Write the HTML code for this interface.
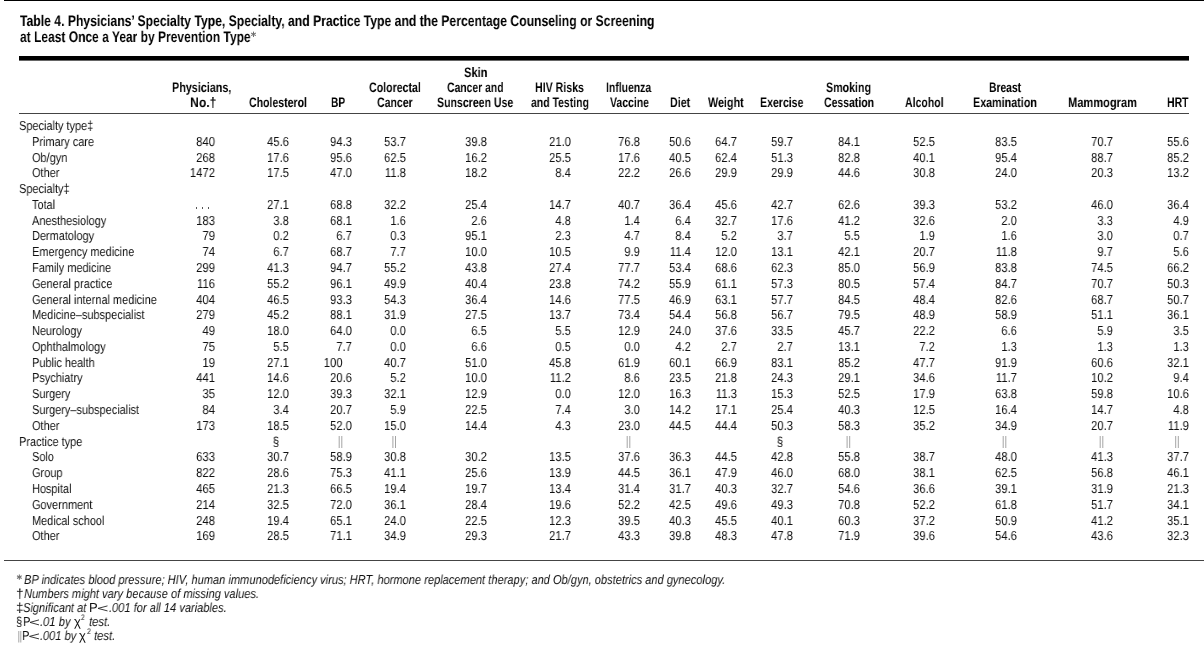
<!DOCTYPE html>
<html><head><meta charset="utf-8"><title>Table 4</title><style>
html,body{margin:0;padding:0;background:#fff;}
body{width:1204px;height:650px;position:relative;overflow:hidden;font-family:"Liberation Sans",sans-serif;}
.t{position:absolute;white-space:nowrap;line-height:20px;transform-origin:0 0;will-change:transform;text-rendering:geometricPrecision;}
.r{position:absolute;}
.title{font-size:15.4px;font-weight:bold;font-style:normal;color:#000;}
.head{font-size:13.7px;font-weight:bold;font-style:normal;color:#000;}
.body{font-size:13.0px;font-weight:normal;font-style:normal;color:#111;}
.foot{font-size:13.0px;font-weight:normal;font-style:italic;color:#111;}
.footu{font-size:13.0px;font-weight:normal;font-style:normal;color:#111;}
</style></head>
<body>
<div class="r" style="left:4px;top:0px;width:1200px;height:1px;background:#000"></div>
<div class="r" style="left:19px;top:56px;width:1169.5px;height:4px;background:#000"></div>
<div class="r" style="left:19px;top:60px;width:1169.5px;height:1px;background:#666"></div>
<div class="r" style="left:19px;top:113px;width:1169.5px;height:1px;background:#444"></div>
<div class="r" style="left:4px;top:560px;width:1200px;height:1px;background:#444"></div>
<div class="t title" style="left:19.50px;top:11.86px;transform-origin:0 15.34px;transform:scaleX(0.7911)">Table 4. Physicians’ Specialty Type, Specialty, and Practice Type and the Percentage Counseling or Screening</div>
<div class="t title" style="left:19.50px;top:27.86px;transform-origin:0 15.34px;transform:scaleX(0.7807)">at Least Once a Year by Prevention Type</div>
<svg class="r" style="left:0;top:0" width="1204" height="650" stroke="#707070" stroke-width="1.05"><line x1="253.50" y1="31.60" x2="253.50" y2="37.00"/><line x1="251.16" y1="32.95" x2="255.84" y2="35.65"/><line x1="255.84" y1="32.95" x2="251.16" y2="35.65"/></svg>
<div class="t head" style="left:172.41px;top:77.65px;transform-origin:0 14.75px;transform:scaleX(0.7878)">Physicians,</div>
<div class="t head" style="left:189.51px;top:92.55px;transform-origin:0 14.75px;transform:scaleX(0.8893)">No.†</div>
<div class="t head" style="left:249.20px;top:92.55px;transform-origin:0 14.75px;transform:scaleX(0.7689)">Cholesterol</div>
<div class="t head" style="left:330.56px;top:92.55px;transform-origin:0 14.75px;transform:scaleX(0.7389)">BP</div>
<div class="t head" style="left:369.30px;top:77.65px;transform-origin:0 14.75px;transform:scaleX(0.7742)">Colorectal</div>
<div class="t head" style="left:377.00px;top:92.55px;transform-origin:0 14.75px;transform:scaleX(0.7696)">Cancer</div>
<div class="t head" style="left:464.09px;top:62.65px;transform-origin:0 14.75px;transform:scaleX(0.8111)">Skin</div>
<div class="t head" style="left:447.40px;top:77.65px;transform-origin:0 14.75px;transform:scaleX(0.7581)">Cancer and</div>
<div class="t head" style="left:437.43px;top:92.55px;transform-origin:0 14.75px;transform:scaleX(0.7711)">Sunscreen Use</div>
<div class="t head" style="left:535.12px;top:77.65px;transform-origin:0 14.75px;transform:scaleX(0.7758)">HIV Risks</div>
<div class="t head" style="left:530.90px;top:92.55px;transform-origin:0 14.75px;transform:scaleX(0.7640)">and Testing</div>
<div class="t head" style="left:605.64px;top:77.65px;transform-origin:0 14.75px;transform:scaleX(0.7610)">Influenza</div>
<div class="t head" style="left:610.00px;top:92.55px;transform-origin:0 14.75px;transform:scaleX(0.7660)">Vaccine</div>
<div class="t head" style="left:669.72px;top:92.55px;transform-origin:0 14.75px;transform:scaleX(0.7800)">Diet</div>
<div class="t head" style="left:708.20px;top:92.55px;transform-origin:0 14.75px;transform:scaleX(0.7867)">Weight</div>
<div class="t head" style="left:760.23px;top:92.55px;transform-origin:0 14.75px;transform:scaleX(0.7709)">Exercise</div>
<div class="t head" style="left:825.82px;top:77.65px;transform-origin:0 14.75px;transform:scaleX(0.7786)">Smoking</div>
<div class="t head" style="left:824.00px;top:92.55px;transform-origin:0 14.75px;transform:scaleX(0.7646)">Cessation</div>
<div class="t head" style="left:904.80px;top:92.55px;transform-origin:0 14.75px;transform:scaleX(0.7673)">Alcohol</div>
<div class="t head" style="left:988.75px;top:77.65px;transform-origin:0 14.75px;transform:scaleX(0.7524)">Breast</div>
<div class="t head" style="left:973.01px;top:92.55px;transform-origin:0 14.75px;transform:scaleX(0.7850)">Examination</div>
<div class="t head" style="left:1067.69px;top:92.55px;transform-origin:0 14.75px;transform:scaleX(0.8096)">Mammogram</div>
<div class="t head" style="left:1166.64px;top:92.55px;transform-origin:0 14.75px;transform:scaleX(0.7630)">HRT</div>
<div class="t body" style="left:19.30px;top:116.00px;transform-origin:0 14.50px;transform:scaleX(0.8420)">Specialty type‡</div>
<div class="t body" style="left:31.80px;top:131.78px;transform-origin:0 14.50px;transform:scaleX(0.8420)">Primary care</div>
<div class="t body" style="left:215.40px;top:131.78px;transform-origin:0 14.50px;transform:scaleX(0.8680) translateX(-100%)">840</div>
<div class="t body" style="left:289.40px;top:131.78px;transform-origin:0 14.50px;transform:scaleX(0.8680) translateX(-100%)">45.6</div>
<div class="t body" style="left:352.40px;top:131.78px;transform-origin:0 14.50px;transform:scaleX(0.8680) translateX(-100%)">94.3</div>
<div class="t body" style="left:406.00px;top:131.78px;transform-origin:0 14.50px;transform:scaleX(0.8680) translateX(-100%)">53.7</div>
<div class="t body" style="left:486.90px;top:131.78px;transform-origin:0 14.50px;transform:scaleX(0.8680) translateX(-100%)">39.8</div>
<div class="t body" style="left:570.90px;top:131.78px;transform-origin:0 14.50px;transform:scaleX(0.8680) translateX(-100%)">21.0</div>
<div class="t body" style="left:640.40px;top:131.78px;transform-origin:0 14.50px;transform:scaleX(0.8680) translateX(-100%)">76.8</div>
<div class="t body" style="left:691.00px;top:131.78px;transform-origin:0 14.50px;transform:scaleX(0.8680) translateX(-100%)">50.6</div>
<div class="t body" style="left:737.20px;top:131.78px;transform-origin:0 14.50px;transform:scaleX(0.8680) translateX(-100%)">64.7</div>
<div class="t body" style="left:792.80px;top:131.78px;transform-origin:0 14.50px;transform:scaleX(0.8680) translateX(-100%)">59.7</div>
<div class="t body" style="left:859.60px;top:131.78px;transform-origin:0 14.50px;transform:scaleX(0.8680) translateX(-100%)">84.1</div>
<div class="t body" style="left:935.30px;top:131.78px;transform-origin:0 14.50px;transform:scaleX(0.8680) translateX(-100%)">52.5</div>
<div class="t body" style="left:1016.70px;top:131.78px;transform-origin:0 14.50px;transform:scaleX(0.8680) translateX(-100%)">83.5</div>
<div class="t body" style="left:1112.60px;top:131.78px;transform-origin:0 14.50px;transform:scaleX(0.8680) translateX(-100%)">70.7</div>
<div class="t body" style="left:1188.60px;top:131.78px;transform-origin:0 14.50px;transform:scaleX(0.8680) translateX(-100%)">55.6</div>
<div class="t body" style="left:31.80px;top:147.56px;transform-origin:0 14.50px;transform:scaleX(0.8420)">Ob/gyn</div>
<div class="t body" style="left:215.40px;top:147.56px;transform-origin:0 14.50px;transform:scaleX(0.8680) translateX(-100%)">268</div>
<div class="t body" style="left:289.40px;top:147.56px;transform-origin:0 14.50px;transform:scaleX(0.8680) translateX(-100%)">17.6</div>
<div class="t body" style="left:352.40px;top:147.56px;transform-origin:0 14.50px;transform:scaleX(0.8680) translateX(-100%)">95.6</div>
<div class="t body" style="left:406.00px;top:147.56px;transform-origin:0 14.50px;transform:scaleX(0.8680) translateX(-100%)">62.5</div>
<div class="t body" style="left:486.90px;top:147.56px;transform-origin:0 14.50px;transform:scaleX(0.8680) translateX(-100%)">16.2</div>
<div class="t body" style="left:570.90px;top:147.56px;transform-origin:0 14.50px;transform:scaleX(0.8680) translateX(-100%)">25.5</div>
<div class="t body" style="left:640.40px;top:147.56px;transform-origin:0 14.50px;transform:scaleX(0.8680) translateX(-100%)">17.6</div>
<div class="t body" style="left:691.00px;top:147.56px;transform-origin:0 14.50px;transform:scaleX(0.8680) translateX(-100%)">40.5</div>
<div class="t body" style="left:737.20px;top:147.56px;transform-origin:0 14.50px;transform:scaleX(0.8680) translateX(-100%)">62.4</div>
<div class="t body" style="left:792.80px;top:147.56px;transform-origin:0 14.50px;transform:scaleX(0.8680) translateX(-100%)">51.3</div>
<div class="t body" style="left:859.60px;top:147.56px;transform-origin:0 14.50px;transform:scaleX(0.8680) translateX(-100%)">82.8</div>
<div class="t body" style="left:935.30px;top:147.56px;transform-origin:0 14.50px;transform:scaleX(0.8680) translateX(-100%)">40.1</div>
<div class="t body" style="left:1016.70px;top:147.56px;transform-origin:0 14.50px;transform:scaleX(0.8680) translateX(-100%)">95.4</div>
<div class="t body" style="left:1112.60px;top:147.56px;transform-origin:0 14.50px;transform:scaleX(0.8680) translateX(-100%)">88.7</div>
<div class="t body" style="left:1188.60px;top:147.56px;transform-origin:0 14.50px;transform:scaleX(0.8680) translateX(-100%)">85.2</div>
<div class="t body" style="left:31.80px;top:163.34px;transform-origin:0 14.50px;transform:scaleX(0.8420)">Other</div>
<div class="t body" style="left:215.40px;top:163.34px;transform-origin:0 14.50px;transform:scaleX(0.8680) translateX(-100%)">1472</div>
<div class="t body" style="left:289.40px;top:163.34px;transform-origin:0 14.50px;transform:scaleX(0.8680) translateX(-100%)">17.5</div>
<div class="t body" style="left:352.40px;top:163.34px;transform-origin:0 14.50px;transform:scaleX(0.8680) translateX(-100%)">47.0</div>
<div class="t body" style="left:406.00px;top:163.34px;transform-origin:0 14.50px;transform:scaleX(0.8680) translateX(-100%)">11.8</div>
<div class="t body" style="left:486.90px;top:163.34px;transform-origin:0 14.50px;transform:scaleX(0.8680) translateX(-100%)">18.2</div>
<div class="t body" style="left:570.90px;top:163.34px;transform-origin:0 14.50px;transform:scaleX(0.8680) translateX(-100%)">8.4</div>
<div class="t body" style="left:640.40px;top:163.34px;transform-origin:0 14.50px;transform:scaleX(0.8680) translateX(-100%)">22.2</div>
<div class="t body" style="left:691.00px;top:163.34px;transform-origin:0 14.50px;transform:scaleX(0.8680) translateX(-100%)">26.6</div>
<div class="t body" style="left:737.20px;top:163.34px;transform-origin:0 14.50px;transform:scaleX(0.8680) translateX(-100%)">29.9</div>
<div class="t body" style="left:792.80px;top:163.34px;transform-origin:0 14.50px;transform:scaleX(0.8680) translateX(-100%)">29.9</div>
<div class="t body" style="left:859.60px;top:163.34px;transform-origin:0 14.50px;transform:scaleX(0.8680) translateX(-100%)">44.6</div>
<div class="t body" style="left:935.30px;top:163.34px;transform-origin:0 14.50px;transform:scaleX(0.8680) translateX(-100%)">30.8</div>
<div class="t body" style="left:1016.70px;top:163.34px;transform-origin:0 14.50px;transform:scaleX(0.8680) translateX(-100%)">24.0</div>
<div class="t body" style="left:1112.60px;top:163.34px;transform-origin:0 14.50px;transform:scaleX(0.8680) translateX(-100%)">20.3</div>
<div class="t body" style="left:1188.60px;top:163.34px;transform-origin:0 14.50px;transform:scaleX(0.8680) translateX(-100%)">13.2</div>
<div class="t body" style="left:19.30px;top:179.12px;transform-origin:0 14.50px;transform:scaleX(0.8420)">Specialty‡</div>
<div class="t body" style="left:31.80px;top:194.90px;transform-origin:0 14.50px;transform:scaleX(0.8420)">Total</div>
<div class="r" style="left:195.60px;top:207.10px;width:1.2px;height:1.6px;background:#555"></div>
<div class="r" style="left:201.70px;top:207.10px;width:1.2px;height:1.6px;background:#555"></div>
<div class="r" style="left:207.80px;top:207.10px;width:1.2px;height:1.6px;background:#555"></div>
<div class="t body" style="left:289.40px;top:194.90px;transform-origin:0 14.50px;transform:scaleX(0.8680) translateX(-100%)">27.1</div>
<div class="t body" style="left:352.40px;top:194.90px;transform-origin:0 14.50px;transform:scaleX(0.8680) translateX(-100%)">68.8</div>
<div class="t body" style="left:406.00px;top:194.90px;transform-origin:0 14.50px;transform:scaleX(0.8680) translateX(-100%)">32.2</div>
<div class="t body" style="left:486.90px;top:194.90px;transform-origin:0 14.50px;transform:scaleX(0.8680) translateX(-100%)">25.4</div>
<div class="t body" style="left:570.90px;top:194.90px;transform-origin:0 14.50px;transform:scaleX(0.8680) translateX(-100%)">14.7</div>
<div class="t body" style="left:640.40px;top:194.90px;transform-origin:0 14.50px;transform:scaleX(0.8680) translateX(-100%)">40.7</div>
<div class="t body" style="left:691.00px;top:194.90px;transform-origin:0 14.50px;transform:scaleX(0.8680) translateX(-100%)">36.4</div>
<div class="t body" style="left:737.20px;top:194.90px;transform-origin:0 14.50px;transform:scaleX(0.8680) translateX(-100%)">45.6</div>
<div class="t body" style="left:792.80px;top:194.90px;transform-origin:0 14.50px;transform:scaleX(0.8680) translateX(-100%)">42.7</div>
<div class="t body" style="left:859.60px;top:194.90px;transform-origin:0 14.50px;transform:scaleX(0.8680) translateX(-100%)">62.6</div>
<div class="t body" style="left:935.30px;top:194.90px;transform-origin:0 14.50px;transform:scaleX(0.8680) translateX(-100%)">39.3</div>
<div class="t body" style="left:1016.70px;top:194.90px;transform-origin:0 14.50px;transform:scaleX(0.8680) translateX(-100%)">53.2</div>
<div class="t body" style="left:1112.60px;top:194.90px;transform-origin:0 14.50px;transform:scaleX(0.8680) translateX(-100%)">46.0</div>
<div class="t body" style="left:1188.60px;top:194.90px;transform-origin:0 14.50px;transform:scaleX(0.8680) translateX(-100%)">36.4</div>
<div class="t body" style="left:31.80px;top:210.68px;transform-origin:0 14.50px;transform:scaleX(0.8420)">Anesthesiology</div>
<div class="t body" style="left:215.40px;top:210.68px;transform-origin:0 14.50px;transform:scaleX(0.8680) translateX(-100%)">183</div>
<div class="t body" style="left:289.40px;top:210.68px;transform-origin:0 14.50px;transform:scaleX(0.8680) translateX(-100%)">3.8</div>
<div class="t body" style="left:352.40px;top:210.68px;transform-origin:0 14.50px;transform:scaleX(0.8680) translateX(-100%)">68.1</div>
<div class="t body" style="left:406.00px;top:210.68px;transform-origin:0 14.50px;transform:scaleX(0.8680) translateX(-100%)">1.6</div>
<div class="t body" style="left:486.90px;top:210.68px;transform-origin:0 14.50px;transform:scaleX(0.8680) translateX(-100%)">2.6</div>
<div class="t body" style="left:570.90px;top:210.68px;transform-origin:0 14.50px;transform:scaleX(0.8680) translateX(-100%)">4.8</div>
<div class="t body" style="left:640.40px;top:210.68px;transform-origin:0 14.50px;transform:scaleX(0.8680) translateX(-100%)">1.4</div>
<div class="t body" style="left:691.00px;top:210.68px;transform-origin:0 14.50px;transform:scaleX(0.8680) translateX(-100%)">6.4</div>
<div class="t body" style="left:737.20px;top:210.68px;transform-origin:0 14.50px;transform:scaleX(0.8680) translateX(-100%)">32.7</div>
<div class="t body" style="left:792.80px;top:210.68px;transform-origin:0 14.50px;transform:scaleX(0.8680) translateX(-100%)">17.6</div>
<div class="t body" style="left:859.60px;top:210.68px;transform-origin:0 14.50px;transform:scaleX(0.8680) translateX(-100%)">41.2</div>
<div class="t body" style="left:935.30px;top:210.68px;transform-origin:0 14.50px;transform:scaleX(0.8680) translateX(-100%)">32.6</div>
<div class="t body" style="left:1016.70px;top:210.68px;transform-origin:0 14.50px;transform:scaleX(0.8680) translateX(-100%)">2.0</div>
<div class="t body" style="left:1112.60px;top:210.68px;transform-origin:0 14.50px;transform:scaleX(0.8680) translateX(-100%)">3.3</div>
<div class="t body" style="left:1188.60px;top:210.68px;transform-origin:0 14.50px;transform:scaleX(0.8680) translateX(-100%)">4.9</div>
<div class="t body" style="left:31.80px;top:226.46px;transform-origin:0 14.50px;transform:scaleX(0.8420)">Dermatology</div>
<div class="t body" style="left:215.40px;top:226.46px;transform-origin:0 14.50px;transform:scaleX(0.8680) translateX(-100%)">79</div>
<div class="t body" style="left:289.40px;top:226.46px;transform-origin:0 14.50px;transform:scaleX(0.8680) translateX(-100%)">0.2</div>
<div class="t body" style="left:352.40px;top:226.46px;transform-origin:0 14.50px;transform:scaleX(0.8680) translateX(-100%)">6.7</div>
<div class="t body" style="left:406.00px;top:226.46px;transform-origin:0 14.50px;transform:scaleX(0.8680) translateX(-100%)">0.3</div>
<div class="t body" style="left:486.90px;top:226.46px;transform-origin:0 14.50px;transform:scaleX(0.8680) translateX(-100%)">95.1</div>
<div class="t body" style="left:570.90px;top:226.46px;transform-origin:0 14.50px;transform:scaleX(0.8680) translateX(-100%)">2.3</div>
<div class="t body" style="left:640.40px;top:226.46px;transform-origin:0 14.50px;transform:scaleX(0.8680) translateX(-100%)">4.7</div>
<div class="t body" style="left:691.00px;top:226.46px;transform-origin:0 14.50px;transform:scaleX(0.8680) translateX(-100%)">8.4</div>
<div class="t body" style="left:737.20px;top:226.46px;transform-origin:0 14.50px;transform:scaleX(0.8680) translateX(-100%)">5.2</div>
<div class="t body" style="left:792.80px;top:226.46px;transform-origin:0 14.50px;transform:scaleX(0.8680) translateX(-100%)">3.7</div>
<div class="t body" style="left:859.60px;top:226.46px;transform-origin:0 14.50px;transform:scaleX(0.8680) translateX(-100%)">5.5</div>
<div class="t body" style="left:935.30px;top:226.46px;transform-origin:0 14.50px;transform:scaleX(0.8680) translateX(-100%)">1.9</div>
<div class="t body" style="left:1016.70px;top:226.46px;transform-origin:0 14.50px;transform:scaleX(0.8680) translateX(-100%)">1.6</div>
<div class="t body" style="left:1112.60px;top:226.46px;transform-origin:0 14.50px;transform:scaleX(0.8680) translateX(-100%)">3.0</div>
<div class="t body" style="left:1188.60px;top:226.46px;transform-origin:0 14.50px;transform:scaleX(0.8680) translateX(-100%)">0.7</div>
<div class="t body" style="left:31.80px;top:242.24px;transform-origin:0 14.50px;transform:scaleX(0.8420)">Emergency medicine</div>
<div class="t body" style="left:215.40px;top:242.24px;transform-origin:0 14.50px;transform:scaleX(0.8680) translateX(-100%)">74</div>
<div class="t body" style="left:289.40px;top:242.24px;transform-origin:0 14.50px;transform:scaleX(0.8680) translateX(-100%)">6.7</div>
<div class="t body" style="left:352.40px;top:242.24px;transform-origin:0 14.50px;transform:scaleX(0.8680) translateX(-100%)">68.7</div>
<div class="t body" style="left:406.00px;top:242.24px;transform-origin:0 14.50px;transform:scaleX(0.8680) translateX(-100%)">7.7</div>
<div class="t body" style="left:486.90px;top:242.24px;transform-origin:0 14.50px;transform:scaleX(0.8680) translateX(-100%)">10.0</div>
<div class="t body" style="left:570.90px;top:242.24px;transform-origin:0 14.50px;transform:scaleX(0.8680) translateX(-100%)">10.5</div>
<div class="t body" style="left:640.40px;top:242.24px;transform-origin:0 14.50px;transform:scaleX(0.8680) translateX(-100%)">9.9</div>
<div class="t body" style="left:691.00px;top:242.24px;transform-origin:0 14.50px;transform:scaleX(0.8680) translateX(-100%)">11.4</div>
<div class="t body" style="left:737.20px;top:242.24px;transform-origin:0 14.50px;transform:scaleX(0.8680) translateX(-100%)">12.0</div>
<div class="t body" style="left:792.80px;top:242.24px;transform-origin:0 14.50px;transform:scaleX(0.8680) translateX(-100%)">13.1</div>
<div class="t body" style="left:859.60px;top:242.24px;transform-origin:0 14.50px;transform:scaleX(0.8680) translateX(-100%)">42.1</div>
<div class="t body" style="left:935.30px;top:242.24px;transform-origin:0 14.50px;transform:scaleX(0.8680) translateX(-100%)">20.7</div>
<div class="t body" style="left:1016.70px;top:242.24px;transform-origin:0 14.50px;transform:scaleX(0.8680) translateX(-100%)">11.8</div>
<div class="t body" style="left:1112.60px;top:242.24px;transform-origin:0 14.50px;transform:scaleX(0.8680) translateX(-100%)">9.7</div>
<div class="t body" style="left:1188.60px;top:242.24px;transform-origin:0 14.50px;transform:scaleX(0.8680) translateX(-100%)">5.6</div>
<div class="t body" style="left:31.80px;top:258.02px;transform-origin:0 14.50px;transform:scaleX(0.8420)">Family medicine</div>
<div class="t body" style="left:215.40px;top:258.02px;transform-origin:0 14.50px;transform:scaleX(0.8680) translateX(-100%)">299</div>
<div class="t body" style="left:289.40px;top:258.02px;transform-origin:0 14.50px;transform:scaleX(0.8680) translateX(-100%)">41.3</div>
<div class="t body" style="left:352.40px;top:258.02px;transform-origin:0 14.50px;transform:scaleX(0.8680) translateX(-100%)">94.7</div>
<div class="t body" style="left:406.00px;top:258.02px;transform-origin:0 14.50px;transform:scaleX(0.8680) translateX(-100%)">55.2</div>
<div class="t body" style="left:486.90px;top:258.02px;transform-origin:0 14.50px;transform:scaleX(0.8680) translateX(-100%)">43.8</div>
<div class="t body" style="left:570.90px;top:258.02px;transform-origin:0 14.50px;transform:scaleX(0.8680) translateX(-100%)">27.4</div>
<div class="t body" style="left:640.40px;top:258.02px;transform-origin:0 14.50px;transform:scaleX(0.8680) translateX(-100%)">77.7</div>
<div class="t body" style="left:691.00px;top:258.02px;transform-origin:0 14.50px;transform:scaleX(0.8680) translateX(-100%)">53.4</div>
<div class="t body" style="left:737.20px;top:258.02px;transform-origin:0 14.50px;transform:scaleX(0.8680) translateX(-100%)">68.6</div>
<div class="t body" style="left:792.80px;top:258.02px;transform-origin:0 14.50px;transform:scaleX(0.8680) translateX(-100%)">62.3</div>
<div class="t body" style="left:859.60px;top:258.02px;transform-origin:0 14.50px;transform:scaleX(0.8680) translateX(-100%)">85.0</div>
<div class="t body" style="left:935.30px;top:258.02px;transform-origin:0 14.50px;transform:scaleX(0.8680) translateX(-100%)">56.9</div>
<div class="t body" style="left:1016.70px;top:258.02px;transform-origin:0 14.50px;transform:scaleX(0.8680) translateX(-100%)">83.8</div>
<div class="t body" style="left:1112.60px;top:258.02px;transform-origin:0 14.50px;transform:scaleX(0.8680) translateX(-100%)">74.5</div>
<div class="t body" style="left:1188.60px;top:258.02px;transform-origin:0 14.50px;transform:scaleX(0.8680) translateX(-100%)">66.2</div>
<div class="t body" style="left:31.80px;top:273.80px;transform-origin:0 14.50px;transform:scaleX(0.8420)">General practice</div>
<div class="t body" style="left:215.40px;top:273.80px;transform-origin:0 14.50px;transform:scaleX(0.8680) translateX(-100%)">116</div>
<div class="t body" style="left:289.40px;top:273.80px;transform-origin:0 14.50px;transform:scaleX(0.8680) translateX(-100%)">55.2</div>
<div class="t body" style="left:352.40px;top:273.80px;transform-origin:0 14.50px;transform:scaleX(0.8680) translateX(-100%)">96.1</div>
<div class="t body" style="left:406.00px;top:273.80px;transform-origin:0 14.50px;transform:scaleX(0.8680) translateX(-100%)">49.9</div>
<div class="t body" style="left:486.90px;top:273.80px;transform-origin:0 14.50px;transform:scaleX(0.8680) translateX(-100%)">40.4</div>
<div class="t body" style="left:570.90px;top:273.80px;transform-origin:0 14.50px;transform:scaleX(0.8680) translateX(-100%)">23.8</div>
<div class="t body" style="left:640.40px;top:273.80px;transform-origin:0 14.50px;transform:scaleX(0.8680) translateX(-100%)">74.2</div>
<div class="t body" style="left:691.00px;top:273.80px;transform-origin:0 14.50px;transform:scaleX(0.8680) translateX(-100%)">55.9</div>
<div class="t body" style="left:737.20px;top:273.80px;transform-origin:0 14.50px;transform:scaleX(0.8680) translateX(-100%)">61.1</div>
<div class="t body" style="left:792.80px;top:273.80px;transform-origin:0 14.50px;transform:scaleX(0.8680) translateX(-100%)">57.3</div>
<div class="t body" style="left:859.60px;top:273.80px;transform-origin:0 14.50px;transform:scaleX(0.8680) translateX(-100%)">80.5</div>
<div class="t body" style="left:935.30px;top:273.80px;transform-origin:0 14.50px;transform:scaleX(0.8680) translateX(-100%)">57.4</div>
<div class="t body" style="left:1016.70px;top:273.80px;transform-origin:0 14.50px;transform:scaleX(0.8680) translateX(-100%)">84.7</div>
<div class="t body" style="left:1112.60px;top:273.80px;transform-origin:0 14.50px;transform:scaleX(0.8680) translateX(-100%)">70.7</div>
<div class="t body" style="left:1188.60px;top:273.80px;transform-origin:0 14.50px;transform:scaleX(0.8680) translateX(-100%)">50.3</div>
<div class="t body" style="left:31.80px;top:289.58px;transform-origin:0 14.50px;transform:scaleX(0.8420)">General internal medicine</div>
<div class="t body" style="left:215.40px;top:289.58px;transform-origin:0 14.50px;transform:scaleX(0.8680) translateX(-100%)">404</div>
<div class="t body" style="left:289.40px;top:289.58px;transform-origin:0 14.50px;transform:scaleX(0.8680) translateX(-100%)">46.5</div>
<div class="t body" style="left:352.40px;top:289.58px;transform-origin:0 14.50px;transform:scaleX(0.8680) translateX(-100%)">93.3</div>
<div class="t body" style="left:406.00px;top:289.58px;transform-origin:0 14.50px;transform:scaleX(0.8680) translateX(-100%)">54.3</div>
<div class="t body" style="left:486.90px;top:289.58px;transform-origin:0 14.50px;transform:scaleX(0.8680) translateX(-100%)">36.4</div>
<div class="t body" style="left:570.90px;top:289.58px;transform-origin:0 14.50px;transform:scaleX(0.8680) translateX(-100%)">14.6</div>
<div class="t body" style="left:640.40px;top:289.58px;transform-origin:0 14.50px;transform:scaleX(0.8680) translateX(-100%)">77.5</div>
<div class="t body" style="left:691.00px;top:289.58px;transform-origin:0 14.50px;transform:scaleX(0.8680) translateX(-100%)">46.9</div>
<div class="t body" style="left:737.20px;top:289.58px;transform-origin:0 14.50px;transform:scaleX(0.8680) translateX(-100%)">63.1</div>
<div class="t body" style="left:792.80px;top:289.58px;transform-origin:0 14.50px;transform:scaleX(0.8680) translateX(-100%)">57.7</div>
<div class="t body" style="left:859.60px;top:289.58px;transform-origin:0 14.50px;transform:scaleX(0.8680) translateX(-100%)">84.5</div>
<div class="t body" style="left:935.30px;top:289.58px;transform-origin:0 14.50px;transform:scaleX(0.8680) translateX(-100%)">48.4</div>
<div class="t body" style="left:1016.70px;top:289.58px;transform-origin:0 14.50px;transform:scaleX(0.8680) translateX(-100%)">82.6</div>
<div class="t body" style="left:1112.60px;top:289.58px;transform-origin:0 14.50px;transform:scaleX(0.8680) translateX(-100%)">68.7</div>
<div class="t body" style="left:1188.60px;top:289.58px;transform-origin:0 14.50px;transform:scaleX(0.8680) translateX(-100%)">50.7</div>
<div class="t body" style="left:31.80px;top:305.36px;transform-origin:0 14.50px;transform:scaleX(0.8420)">Medicine–subspecialist</div>
<div class="t body" style="left:215.40px;top:305.36px;transform-origin:0 14.50px;transform:scaleX(0.8680) translateX(-100%)">279</div>
<div class="t body" style="left:289.40px;top:305.36px;transform-origin:0 14.50px;transform:scaleX(0.8680) translateX(-100%)">45.2</div>
<div class="t body" style="left:352.40px;top:305.36px;transform-origin:0 14.50px;transform:scaleX(0.8680) translateX(-100%)">88.1</div>
<div class="t body" style="left:406.00px;top:305.36px;transform-origin:0 14.50px;transform:scaleX(0.8680) translateX(-100%)">31.9</div>
<div class="t body" style="left:486.90px;top:305.36px;transform-origin:0 14.50px;transform:scaleX(0.8680) translateX(-100%)">27.5</div>
<div class="t body" style="left:570.90px;top:305.36px;transform-origin:0 14.50px;transform:scaleX(0.8680) translateX(-100%)">13.7</div>
<div class="t body" style="left:640.40px;top:305.36px;transform-origin:0 14.50px;transform:scaleX(0.8680) translateX(-100%)">73.4</div>
<div class="t body" style="left:691.00px;top:305.36px;transform-origin:0 14.50px;transform:scaleX(0.8680) translateX(-100%)">54.4</div>
<div class="t body" style="left:737.20px;top:305.36px;transform-origin:0 14.50px;transform:scaleX(0.8680) translateX(-100%)">56.8</div>
<div class="t body" style="left:792.80px;top:305.36px;transform-origin:0 14.50px;transform:scaleX(0.8680) translateX(-100%)">56.7</div>
<div class="t body" style="left:859.60px;top:305.36px;transform-origin:0 14.50px;transform:scaleX(0.8680) translateX(-100%)">79.5</div>
<div class="t body" style="left:935.30px;top:305.36px;transform-origin:0 14.50px;transform:scaleX(0.8680) translateX(-100%)">48.9</div>
<div class="t body" style="left:1016.70px;top:305.36px;transform-origin:0 14.50px;transform:scaleX(0.8680) translateX(-100%)">58.9</div>
<div class="t body" style="left:1112.60px;top:305.36px;transform-origin:0 14.50px;transform:scaleX(0.8680) translateX(-100%)">51.1</div>
<div class="t body" style="left:1188.60px;top:305.36px;transform-origin:0 14.50px;transform:scaleX(0.8680) translateX(-100%)">36.1</div>
<div class="t body" style="left:31.80px;top:321.14px;transform-origin:0 14.50px;transform:scaleX(0.8420)">Neurology</div>
<div class="t body" style="left:215.40px;top:321.14px;transform-origin:0 14.50px;transform:scaleX(0.8680) translateX(-100%)">49</div>
<div class="t body" style="left:289.40px;top:321.14px;transform-origin:0 14.50px;transform:scaleX(0.8680) translateX(-100%)">18.0</div>
<div class="t body" style="left:352.40px;top:321.14px;transform-origin:0 14.50px;transform:scaleX(0.8680) translateX(-100%)">64.0</div>
<div class="t body" style="left:406.00px;top:321.14px;transform-origin:0 14.50px;transform:scaleX(0.8680) translateX(-100%)">0.0</div>
<div class="t body" style="left:486.90px;top:321.14px;transform-origin:0 14.50px;transform:scaleX(0.8680) translateX(-100%)">6.5</div>
<div class="t body" style="left:570.90px;top:321.14px;transform-origin:0 14.50px;transform:scaleX(0.8680) translateX(-100%)">5.5</div>
<div class="t body" style="left:640.40px;top:321.14px;transform-origin:0 14.50px;transform:scaleX(0.8680) translateX(-100%)">12.9</div>
<div class="t body" style="left:691.00px;top:321.14px;transform-origin:0 14.50px;transform:scaleX(0.8680) translateX(-100%)">24.0</div>
<div class="t body" style="left:737.20px;top:321.14px;transform-origin:0 14.50px;transform:scaleX(0.8680) translateX(-100%)">37.6</div>
<div class="t body" style="left:792.80px;top:321.14px;transform-origin:0 14.50px;transform:scaleX(0.8680) translateX(-100%)">33.5</div>
<div class="t body" style="left:859.60px;top:321.14px;transform-origin:0 14.50px;transform:scaleX(0.8680) translateX(-100%)">45.7</div>
<div class="t body" style="left:935.30px;top:321.14px;transform-origin:0 14.50px;transform:scaleX(0.8680) translateX(-100%)">22.2</div>
<div class="t body" style="left:1016.70px;top:321.14px;transform-origin:0 14.50px;transform:scaleX(0.8680) translateX(-100%)">6.6</div>
<div class="t body" style="left:1112.60px;top:321.14px;transform-origin:0 14.50px;transform:scaleX(0.8680) translateX(-100%)">5.9</div>
<div class="t body" style="left:1188.60px;top:321.14px;transform-origin:0 14.50px;transform:scaleX(0.8680) translateX(-100%)">3.5</div>
<div class="t body" style="left:31.80px;top:336.92px;transform-origin:0 14.50px;transform:scaleX(0.8420)">Ophthalmology</div>
<div class="t body" style="left:215.40px;top:336.92px;transform-origin:0 14.50px;transform:scaleX(0.8680) translateX(-100%)">75</div>
<div class="t body" style="left:289.40px;top:336.92px;transform-origin:0 14.50px;transform:scaleX(0.8680) translateX(-100%)">5.5</div>
<div class="t body" style="left:352.40px;top:336.92px;transform-origin:0 14.50px;transform:scaleX(0.8680) translateX(-100%)">7.7</div>
<div class="t body" style="left:406.00px;top:336.92px;transform-origin:0 14.50px;transform:scaleX(0.8680) translateX(-100%)">0.0</div>
<div class="t body" style="left:486.90px;top:336.92px;transform-origin:0 14.50px;transform:scaleX(0.8680) translateX(-100%)">6.6</div>
<div class="t body" style="left:570.90px;top:336.92px;transform-origin:0 14.50px;transform:scaleX(0.8680) translateX(-100%)">0.5</div>
<div class="t body" style="left:640.40px;top:336.92px;transform-origin:0 14.50px;transform:scaleX(0.8680) translateX(-100%)">0.0</div>
<div class="t body" style="left:691.00px;top:336.92px;transform-origin:0 14.50px;transform:scaleX(0.8680) translateX(-100%)">4.2</div>
<div class="t body" style="left:737.20px;top:336.92px;transform-origin:0 14.50px;transform:scaleX(0.8680) translateX(-100%)">2.7</div>
<div class="t body" style="left:792.80px;top:336.92px;transform-origin:0 14.50px;transform:scaleX(0.8680) translateX(-100%)">2.7</div>
<div class="t body" style="left:859.60px;top:336.92px;transform-origin:0 14.50px;transform:scaleX(0.8680) translateX(-100%)">13.1</div>
<div class="t body" style="left:935.30px;top:336.92px;transform-origin:0 14.50px;transform:scaleX(0.8680) translateX(-100%)">7.2</div>
<div class="t body" style="left:1016.70px;top:336.92px;transform-origin:0 14.50px;transform:scaleX(0.8680) translateX(-100%)">1.3</div>
<div class="t body" style="left:1112.60px;top:336.92px;transform-origin:0 14.50px;transform:scaleX(0.8680) translateX(-100%)">1.3</div>
<div class="t body" style="left:1188.60px;top:336.92px;transform-origin:0 14.50px;transform:scaleX(0.8680) translateX(-100%)">1.3</div>
<div class="t body" style="left:31.80px;top:352.70px;transform-origin:0 14.50px;transform:scaleX(0.8420)">Public health</div>
<div class="t body" style="left:215.40px;top:352.70px;transform-origin:0 14.50px;transform:scaleX(0.8680) translateX(-100%)">19</div>
<div class="t body" style="left:289.40px;top:352.70px;transform-origin:0 14.50px;transform:scaleX(0.8680) translateX(-100%)">27.1</div>
<div class="t body" style="left:352.40px;top:352.70px;transform-origin:0 14.50px;transform:scaleX(0.8680) translateX(-100%)">100<span style="visibility:hidden">.0</span></div>
<div class="t body" style="left:406.00px;top:352.70px;transform-origin:0 14.50px;transform:scaleX(0.8680) translateX(-100%)">40.7</div>
<div class="t body" style="left:486.90px;top:352.70px;transform-origin:0 14.50px;transform:scaleX(0.8680) translateX(-100%)">51.0</div>
<div class="t body" style="left:570.90px;top:352.70px;transform-origin:0 14.50px;transform:scaleX(0.8680) translateX(-100%)">45.8</div>
<div class="t body" style="left:640.40px;top:352.70px;transform-origin:0 14.50px;transform:scaleX(0.8680) translateX(-100%)">61.9</div>
<div class="t body" style="left:691.00px;top:352.70px;transform-origin:0 14.50px;transform:scaleX(0.8680) translateX(-100%)">60.1</div>
<div class="t body" style="left:737.20px;top:352.70px;transform-origin:0 14.50px;transform:scaleX(0.8680) translateX(-100%)">66.9</div>
<div class="t body" style="left:792.80px;top:352.70px;transform-origin:0 14.50px;transform:scaleX(0.8680) translateX(-100%)">83.1</div>
<div class="t body" style="left:859.60px;top:352.70px;transform-origin:0 14.50px;transform:scaleX(0.8680) translateX(-100%)">85.2</div>
<div class="t body" style="left:935.30px;top:352.70px;transform-origin:0 14.50px;transform:scaleX(0.8680) translateX(-100%)">47.7</div>
<div class="t body" style="left:1016.70px;top:352.70px;transform-origin:0 14.50px;transform:scaleX(0.8680) translateX(-100%)">91.9</div>
<div class="t body" style="left:1112.60px;top:352.70px;transform-origin:0 14.50px;transform:scaleX(0.8680) translateX(-100%)">60.6</div>
<div class="t body" style="left:1188.60px;top:352.70px;transform-origin:0 14.50px;transform:scaleX(0.8680) translateX(-100%)">32.1</div>
<div class="t body" style="left:31.80px;top:368.48px;transform-origin:0 14.50px;transform:scaleX(0.8420)">Psychiatry</div>
<div class="t body" style="left:215.40px;top:368.48px;transform-origin:0 14.50px;transform:scaleX(0.8680) translateX(-100%)">441</div>
<div class="t body" style="left:289.40px;top:368.48px;transform-origin:0 14.50px;transform:scaleX(0.8680) translateX(-100%)">14.6</div>
<div class="t body" style="left:352.40px;top:368.48px;transform-origin:0 14.50px;transform:scaleX(0.8680) translateX(-100%)">20.6</div>
<div class="t body" style="left:406.00px;top:368.48px;transform-origin:0 14.50px;transform:scaleX(0.8680) translateX(-100%)">5.2</div>
<div class="t body" style="left:486.90px;top:368.48px;transform-origin:0 14.50px;transform:scaleX(0.8680) translateX(-100%)">10.0</div>
<div class="t body" style="left:570.90px;top:368.48px;transform-origin:0 14.50px;transform:scaleX(0.8680) translateX(-100%)">11.2</div>
<div class="t body" style="left:640.40px;top:368.48px;transform-origin:0 14.50px;transform:scaleX(0.8680) translateX(-100%)">8.6</div>
<div class="t body" style="left:691.00px;top:368.48px;transform-origin:0 14.50px;transform:scaleX(0.8680) translateX(-100%)">23.5</div>
<div class="t body" style="left:737.20px;top:368.48px;transform-origin:0 14.50px;transform:scaleX(0.8680) translateX(-100%)">21.8</div>
<div class="t body" style="left:792.80px;top:368.48px;transform-origin:0 14.50px;transform:scaleX(0.8680) translateX(-100%)">24.3</div>
<div class="t body" style="left:859.60px;top:368.48px;transform-origin:0 14.50px;transform:scaleX(0.8680) translateX(-100%)">29.1</div>
<div class="t body" style="left:935.30px;top:368.48px;transform-origin:0 14.50px;transform:scaleX(0.8680) translateX(-100%)">34.6</div>
<div class="t body" style="left:1016.70px;top:368.48px;transform-origin:0 14.50px;transform:scaleX(0.8680) translateX(-100%)">11.7</div>
<div class="t body" style="left:1112.60px;top:368.48px;transform-origin:0 14.50px;transform:scaleX(0.8680) translateX(-100%)">10.2</div>
<div class="t body" style="left:1188.60px;top:368.48px;transform-origin:0 14.50px;transform:scaleX(0.8680) translateX(-100%)">9.4</div>
<div class="t body" style="left:31.80px;top:384.26px;transform-origin:0 14.50px;transform:scaleX(0.8420)">Surgery</div>
<div class="t body" style="left:215.40px;top:384.26px;transform-origin:0 14.50px;transform:scaleX(0.8680) translateX(-100%)">35</div>
<div class="t body" style="left:289.40px;top:384.26px;transform-origin:0 14.50px;transform:scaleX(0.8680) translateX(-100%)">12.0</div>
<div class="t body" style="left:352.40px;top:384.26px;transform-origin:0 14.50px;transform:scaleX(0.8680) translateX(-100%)">39.3</div>
<div class="t body" style="left:406.00px;top:384.26px;transform-origin:0 14.50px;transform:scaleX(0.8680) translateX(-100%)">32.1</div>
<div class="t body" style="left:486.90px;top:384.26px;transform-origin:0 14.50px;transform:scaleX(0.8680) translateX(-100%)">12.9</div>
<div class="t body" style="left:570.90px;top:384.26px;transform-origin:0 14.50px;transform:scaleX(0.8680) translateX(-100%)">0.0</div>
<div class="t body" style="left:640.40px;top:384.26px;transform-origin:0 14.50px;transform:scaleX(0.8680) translateX(-100%)">12.0</div>
<div class="t body" style="left:691.00px;top:384.26px;transform-origin:0 14.50px;transform:scaleX(0.8680) translateX(-100%)">16.3</div>
<div class="t body" style="left:737.20px;top:384.26px;transform-origin:0 14.50px;transform:scaleX(0.8680) translateX(-100%)">11.3</div>
<div class="t body" style="left:792.80px;top:384.26px;transform-origin:0 14.50px;transform:scaleX(0.8680) translateX(-100%)">15.3</div>
<div class="t body" style="left:859.60px;top:384.26px;transform-origin:0 14.50px;transform:scaleX(0.8680) translateX(-100%)">52.5</div>
<div class="t body" style="left:935.30px;top:384.26px;transform-origin:0 14.50px;transform:scaleX(0.8680) translateX(-100%)">17.9</div>
<div class="t body" style="left:1016.70px;top:384.26px;transform-origin:0 14.50px;transform:scaleX(0.8680) translateX(-100%)">63.8</div>
<div class="t body" style="left:1112.60px;top:384.26px;transform-origin:0 14.50px;transform:scaleX(0.8680) translateX(-100%)">59.8</div>
<div class="t body" style="left:1188.60px;top:384.26px;transform-origin:0 14.50px;transform:scaleX(0.8680) translateX(-100%)">10.6</div>
<div class="t body" style="left:31.80px;top:400.04px;transform-origin:0 14.50px;transform:scaleX(0.8420)">Surgery–subspecialist</div>
<div class="t body" style="left:215.40px;top:400.04px;transform-origin:0 14.50px;transform:scaleX(0.8680) translateX(-100%)">84</div>
<div class="t body" style="left:289.40px;top:400.04px;transform-origin:0 14.50px;transform:scaleX(0.8680) translateX(-100%)">3.4</div>
<div class="t body" style="left:352.40px;top:400.04px;transform-origin:0 14.50px;transform:scaleX(0.8680) translateX(-100%)">20.7</div>
<div class="t body" style="left:406.00px;top:400.04px;transform-origin:0 14.50px;transform:scaleX(0.8680) translateX(-100%)">5.9</div>
<div class="t body" style="left:486.90px;top:400.04px;transform-origin:0 14.50px;transform:scaleX(0.8680) translateX(-100%)">22.5</div>
<div class="t body" style="left:570.90px;top:400.04px;transform-origin:0 14.50px;transform:scaleX(0.8680) translateX(-100%)">7.4</div>
<div class="t body" style="left:640.40px;top:400.04px;transform-origin:0 14.50px;transform:scaleX(0.8680) translateX(-100%)">3.0</div>
<div class="t body" style="left:691.00px;top:400.04px;transform-origin:0 14.50px;transform:scaleX(0.8680) translateX(-100%)">14.2</div>
<div class="t body" style="left:737.20px;top:400.04px;transform-origin:0 14.50px;transform:scaleX(0.8680) translateX(-100%)">17.1</div>
<div class="t body" style="left:792.80px;top:400.04px;transform-origin:0 14.50px;transform:scaleX(0.8680) translateX(-100%)">25.4</div>
<div class="t body" style="left:859.60px;top:400.04px;transform-origin:0 14.50px;transform:scaleX(0.8680) translateX(-100%)">40.3</div>
<div class="t body" style="left:935.30px;top:400.04px;transform-origin:0 14.50px;transform:scaleX(0.8680) translateX(-100%)">12.5</div>
<div class="t body" style="left:1016.70px;top:400.04px;transform-origin:0 14.50px;transform:scaleX(0.8680) translateX(-100%)">16.4</div>
<div class="t body" style="left:1112.60px;top:400.04px;transform-origin:0 14.50px;transform:scaleX(0.8680) translateX(-100%)">14.7</div>
<div class="t body" style="left:1188.60px;top:400.04px;transform-origin:0 14.50px;transform:scaleX(0.8680) translateX(-100%)">4.8</div>
<div class="t body" style="left:31.80px;top:415.82px;transform-origin:0 14.50px;transform:scaleX(0.8420)">Other</div>
<div class="t body" style="left:215.40px;top:415.82px;transform-origin:0 14.50px;transform:scaleX(0.8680) translateX(-100%)">173</div>
<div class="t body" style="left:289.40px;top:415.82px;transform-origin:0 14.50px;transform:scaleX(0.8680) translateX(-100%)">18.5</div>
<div class="t body" style="left:352.40px;top:415.82px;transform-origin:0 14.50px;transform:scaleX(0.8680) translateX(-100%)">52.0</div>
<div class="t body" style="left:406.00px;top:415.82px;transform-origin:0 14.50px;transform:scaleX(0.8680) translateX(-100%)">15.0</div>
<div class="t body" style="left:486.90px;top:415.82px;transform-origin:0 14.50px;transform:scaleX(0.8680) translateX(-100%)">14.4</div>
<div class="t body" style="left:570.90px;top:415.82px;transform-origin:0 14.50px;transform:scaleX(0.8680) translateX(-100%)">4.3</div>
<div class="t body" style="left:640.40px;top:415.82px;transform-origin:0 14.50px;transform:scaleX(0.8680) translateX(-100%)">23.0</div>
<div class="t body" style="left:691.00px;top:415.82px;transform-origin:0 14.50px;transform:scaleX(0.8680) translateX(-100%)">44.5</div>
<div class="t body" style="left:737.20px;top:415.82px;transform-origin:0 14.50px;transform:scaleX(0.8680) translateX(-100%)">44.4</div>
<div class="t body" style="left:792.80px;top:415.82px;transform-origin:0 14.50px;transform:scaleX(0.8680) translateX(-100%)">50.3</div>
<div class="t body" style="left:859.60px;top:415.82px;transform-origin:0 14.50px;transform:scaleX(0.8680) translateX(-100%)">58.3</div>
<div class="t body" style="left:935.30px;top:415.82px;transform-origin:0 14.50px;transform:scaleX(0.8680) translateX(-100%)">35.2</div>
<div class="t body" style="left:1016.70px;top:415.82px;transform-origin:0 14.50px;transform:scaleX(0.8680) translateX(-100%)">34.9</div>
<div class="t body" style="left:1112.60px;top:415.82px;transform-origin:0 14.50px;transform:scaleX(0.8680) translateX(-100%)">20.7</div>
<div class="t body" style="left:1188.60px;top:415.82px;transform-origin:0 14.50px;transform:scaleX(0.8680) translateX(-100%)">11.9</div>
<div class="t body" style="left:19.30px;top:431.60px;transform-origin:0 14.50px;transform:scaleX(0.8420)">Practice type</div>
<div class="t body" style="left:31.80px;top:447.38px;transform-origin:0 14.50px;transform:scaleX(0.8420)">Solo</div>
<div class="t body" style="left:215.40px;top:447.38px;transform-origin:0 14.50px;transform:scaleX(0.8680) translateX(-100%)">633</div>
<div class="t body" style="left:289.40px;top:447.38px;transform-origin:0 14.50px;transform:scaleX(0.8680) translateX(-100%)">30.7</div>
<div class="t body" style="left:352.40px;top:447.38px;transform-origin:0 14.50px;transform:scaleX(0.8680) translateX(-100%)">58.9</div>
<div class="t body" style="left:406.00px;top:447.38px;transform-origin:0 14.50px;transform:scaleX(0.8680) translateX(-100%)">30.8</div>
<div class="t body" style="left:486.90px;top:447.38px;transform-origin:0 14.50px;transform:scaleX(0.8680) translateX(-100%)">30.2</div>
<div class="t body" style="left:570.90px;top:447.38px;transform-origin:0 14.50px;transform:scaleX(0.8680) translateX(-100%)">13.5</div>
<div class="t body" style="left:640.40px;top:447.38px;transform-origin:0 14.50px;transform:scaleX(0.8680) translateX(-100%)">37.6</div>
<div class="t body" style="left:691.00px;top:447.38px;transform-origin:0 14.50px;transform:scaleX(0.8680) translateX(-100%)">36.3</div>
<div class="t body" style="left:737.20px;top:447.38px;transform-origin:0 14.50px;transform:scaleX(0.8680) translateX(-100%)">44.5</div>
<div class="t body" style="left:792.80px;top:447.38px;transform-origin:0 14.50px;transform:scaleX(0.8680) translateX(-100%)">42.8</div>
<div class="t body" style="left:859.60px;top:447.38px;transform-origin:0 14.50px;transform:scaleX(0.8680) translateX(-100%)">55.8</div>
<div class="t body" style="left:935.30px;top:447.38px;transform-origin:0 14.50px;transform:scaleX(0.8680) translateX(-100%)">38.7</div>
<div class="t body" style="left:1016.70px;top:447.38px;transform-origin:0 14.50px;transform:scaleX(0.8680) translateX(-100%)">48.0</div>
<div class="t body" style="left:1112.60px;top:447.38px;transform-origin:0 14.50px;transform:scaleX(0.8680) translateX(-100%)">41.3</div>
<div class="t body" style="left:1188.60px;top:447.38px;transform-origin:0 14.50px;transform:scaleX(0.8680) translateX(-100%)">37.7</div>
<div class="t body" style="left:31.80px;top:463.16px;transform-origin:0 14.50px;transform:scaleX(0.8420)">Group</div>
<div class="t body" style="left:215.40px;top:463.16px;transform-origin:0 14.50px;transform:scaleX(0.8680) translateX(-100%)">822</div>
<div class="t body" style="left:289.40px;top:463.16px;transform-origin:0 14.50px;transform:scaleX(0.8680) translateX(-100%)">28.6</div>
<div class="t body" style="left:352.40px;top:463.16px;transform-origin:0 14.50px;transform:scaleX(0.8680) translateX(-100%)">75.3</div>
<div class="t body" style="left:406.00px;top:463.16px;transform-origin:0 14.50px;transform:scaleX(0.8680) translateX(-100%)">41.1</div>
<div class="t body" style="left:486.90px;top:463.16px;transform-origin:0 14.50px;transform:scaleX(0.8680) translateX(-100%)">25.6</div>
<div class="t body" style="left:570.90px;top:463.16px;transform-origin:0 14.50px;transform:scaleX(0.8680) translateX(-100%)">13.9</div>
<div class="t body" style="left:640.40px;top:463.16px;transform-origin:0 14.50px;transform:scaleX(0.8680) translateX(-100%)">44.5</div>
<div class="t body" style="left:691.00px;top:463.16px;transform-origin:0 14.50px;transform:scaleX(0.8680) translateX(-100%)">36.1</div>
<div class="t body" style="left:737.20px;top:463.16px;transform-origin:0 14.50px;transform:scaleX(0.8680) translateX(-100%)">47.9</div>
<div class="t body" style="left:792.80px;top:463.16px;transform-origin:0 14.50px;transform:scaleX(0.8680) translateX(-100%)">46.0</div>
<div class="t body" style="left:859.60px;top:463.16px;transform-origin:0 14.50px;transform:scaleX(0.8680) translateX(-100%)">68.0</div>
<div class="t body" style="left:935.30px;top:463.16px;transform-origin:0 14.50px;transform:scaleX(0.8680) translateX(-100%)">38.1</div>
<div class="t body" style="left:1016.70px;top:463.16px;transform-origin:0 14.50px;transform:scaleX(0.8680) translateX(-100%)">62.5</div>
<div class="t body" style="left:1112.60px;top:463.16px;transform-origin:0 14.50px;transform:scaleX(0.8680) translateX(-100%)">56.8</div>
<div class="t body" style="left:1188.60px;top:463.16px;transform-origin:0 14.50px;transform:scaleX(0.8680) translateX(-100%)">46.1</div>
<div class="t body" style="left:31.80px;top:478.94px;transform-origin:0 14.50px;transform:scaleX(0.8420)">Hospital</div>
<div class="t body" style="left:215.40px;top:478.94px;transform-origin:0 14.50px;transform:scaleX(0.8680) translateX(-100%)">465</div>
<div class="t body" style="left:289.40px;top:478.94px;transform-origin:0 14.50px;transform:scaleX(0.8680) translateX(-100%)">21.3</div>
<div class="t body" style="left:352.40px;top:478.94px;transform-origin:0 14.50px;transform:scaleX(0.8680) translateX(-100%)">66.5</div>
<div class="t body" style="left:406.00px;top:478.94px;transform-origin:0 14.50px;transform:scaleX(0.8680) translateX(-100%)">19.4</div>
<div class="t body" style="left:486.90px;top:478.94px;transform-origin:0 14.50px;transform:scaleX(0.8680) translateX(-100%)">19.7</div>
<div class="t body" style="left:570.90px;top:478.94px;transform-origin:0 14.50px;transform:scaleX(0.8680) translateX(-100%)">13.4</div>
<div class="t body" style="left:640.40px;top:478.94px;transform-origin:0 14.50px;transform:scaleX(0.8680) translateX(-100%)">31.4</div>
<div class="t body" style="left:691.00px;top:478.94px;transform-origin:0 14.50px;transform:scaleX(0.8680) translateX(-100%)">31.7</div>
<div class="t body" style="left:737.20px;top:478.94px;transform-origin:0 14.50px;transform:scaleX(0.8680) translateX(-100%)">40.3</div>
<div class="t body" style="left:792.80px;top:478.94px;transform-origin:0 14.50px;transform:scaleX(0.8680) translateX(-100%)">32.7</div>
<div class="t body" style="left:859.60px;top:478.94px;transform-origin:0 14.50px;transform:scaleX(0.8680) translateX(-100%)">54.6</div>
<div class="t body" style="left:935.30px;top:478.94px;transform-origin:0 14.50px;transform:scaleX(0.8680) translateX(-100%)">36.6</div>
<div class="t body" style="left:1016.70px;top:478.94px;transform-origin:0 14.50px;transform:scaleX(0.8680) translateX(-100%)">39.1</div>
<div class="t body" style="left:1112.60px;top:478.94px;transform-origin:0 14.50px;transform:scaleX(0.8680) translateX(-100%)">31.9</div>
<div class="t body" style="left:1188.60px;top:478.94px;transform-origin:0 14.50px;transform:scaleX(0.8680) translateX(-100%)">21.3</div>
<div class="t body" style="left:31.80px;top:494.72px;transform-origin:0 14.50px;transform:scaleX(0.8420)">Government</div>
<div class="t body" style="left:215.40px;top:494.72px;transform-origin:0 14.50px;transform:scaleX(0.8680) translateX(-100%)">214</div>
<div class="t body" style="left:289.40px;top:494.72px;transform-origin:0 14.50px;transform:scaleX(0.8680) translateX(-100%)">32.5</div>
<div class="t body" style="left:352.40px;top:494.72px;transform-origin:0 14.50px;transform:scaleX(0.8680) translateX(-100%)">72.0</div>
<div class="t body" style="left:406.00px;top:494.72px;transform-origin:0 14.50px;transform:scaleX(0.8680) translateX(-100%)">36.1</div>
<div class="t body" style="left:486.90px;top:494.72px;transform-origin:0 14.50px;transform:scaleX(0.8680) translateX(-100%)">28.4</div>
<div class="t body" style="left:570.90px;top:494.72px;transform-origin:0 14.50px;transform:scaleX(0.8680) translateX(-100%)">19.6</div>
<div class="t body" style="left:640.40px;top:494.72px;transform-origin:0 14.50px;transform:scaleX(0.8680) translateX(-100%)">52.2</div>
<div class="t body" style="left:691.00px;top:494.72px;transform-origin:0 14.50px;transform:scaleX(0.8680) translateX(-100%)">42.5</div>
<div class="t body" style="left:737.20px;top:494.72px;transform-origin:0 14.50px;transform:scaleX(0.8680) translateX(-100%)">49.6</div>
<div class="t body" style="left:792.80px;top:494.72px;transform-origin:0 14.50px;transform:scaleX(0.8680) translateX(-100%)">49.3</div>
<div class="t body" style="left:859.60px;top:494.72px;transform-origin:0 14.50px;transform:scaleX(0.8680) translateX(-100%)">70.8</div>
<div class="t body" style="left:935.30px;top:494.72px;transform-origin:0 14.50px;transform:scaleX(0.8680) translateX(-100%)">52.2</div>
<div class="t body" style="left:1016.70px;top:494.72px;transform-origin:0 14.50px;transform:scaleX(0.8680) translateX(-100%)">61.8</div>
<div class="t body" style="left:1112.60px;top:494.72px;transform-origin:0 14.50px;transform:scaleX(0.8680) translateX(-100%)">51.7</div>
<div class="t body" style="left:1188.60px;top:494.72px;transform-origin:0 14.50px;transform:scaleX(0.8680) translateX(-100%)">34.1</div>
<div class="t body" style="left:31.80px;top:510.50px;transform-origin:0 14.50px;transform:scaleX(0.8420)">Medical school</div>
<div class="t body" style="left:215.40px;top:510.50px;transform-origin:0 14.50px;transform:scaleX(0.8680) translateX(-100%)">248</div>
<div class="t body" style="left:289.40px;top:510.50px;transform-origin:0 14.50px;transform:scaleX(0.8680) translateX(-100%)">19.4</div>
<div class="t body" style="left:352.40px;top:510.50px;transform-origin:0 14.50px;transform:scaleX(0.8680) translateX(-100%)">65.1</div>
<div class="t body" style="left:406.00px;top:510.50px;transform-origin:0 14.50px;transform:scaleX(0.8680) translateX(-100%)">24.0</div>
<div class="t body" style="left:486.90px;top:510.50px;transform-origin:0 14.50px;transform:scaleX(0.8680) translateX(-100%)">22.5</div>
<div class="t body" style="left:570.90px;top:510.50px;transform-origin:0 14.50px;transform:scaleX(0.8680) translateX(-100%)">12.3</div>
<div class="t body" style="left:640.40px;top:510.50px;transform-origin:0 14.50px;transform:scaleX(0.8680) translateX(-100%)">39.5</div>
<div class="t body" style="left:691.00px;top:510.50px;transform-origin:0 14.50px;transform:scaleX(0.8680) translateX(-100%)">40.3</div>
<div class="t body" style="left:737.20px;top:510.50px;transform-origin:0 14.50px;transform:scaleX(0.8680) translateX(-100%)">45.5</div>
<div class="t body" style="left:792.80px;top:510.50px;transform-origin:0 14.50px;transform:scaleX(0.8680) translateX(-100%)">40.1</div>
<div class="t body" style="left:859.60px;top:510.50px;transform-origin:0 14.50px;transform:scaleX(0.8680) translateX(-100%)">60.3</div>
<div class="t body" style="left:935.30px;top:510.50px;transform-origin:0 14.50px;transform:scaleX(0.8680) translateX(-100%)">37.2</div>
<div class="t body" style="left:1016.70px;top:510.50px;transform-origin:0 14.50px;transform:scaleX(0.8680) translateX(-100%)">50.9</div>
<div class="t body" style="left:1112.60px;top:510.50px;transform-origin:0 14.50px;transform:scaleX(0.8680) translateX(-100%)">41.2</div>
<div class="t body" style="left:1188.60px;top:510.50px;transform-origin:0 14.50px;transform:scaleX(0.8680) translateX(-100%)">35.1</div>
<div class="t body" style="left:31.80px;top:526.28px;transform-origin:0 14.50px;transform:scaleX(0.8420)">Other</div>
<div class="t body" style="left:215.40px;top:526.28px;transform-origin:0 14.50px;transform:scaleX(0.8680) translateX(-100%)">169</div>
<div class="t body" style="left:289.40px;top:526.28px;transform-origin:0 14.50px;transform:scaleX(0.8680) translateX(-100%)">28.5</div>
<div class="t body" style="left:352.40px;top:526.28px;transform-origin:0 14.50px;transform:scaleX(0.8680) translateX(-100%)">71.1</div>
<div class="t body" style="left:406.00px;top:526.28px;transform-origin:0 14.50px;transform:scaleX(0.8680) translateX(-100%)">34.9</div>
<div class="t body" style="left:486.90px;top:526.28px;transform-origin:0 14.50px;transform:scaleX(0.8680) translateX(-100%)">29.3</div>
<div class="t body" style="left:570.90px;top:526.28px;transform-origin:0 14.50px;transform:scaleX(0.8680) translateX(-100%)">21.7</div>
<div class="t body" style="left:640.40px;top:526.28px;transform-origin:0 14.50px;transform:scaleX(0.8680) translateX(-100%)">43.3</div>
<div class="t body" style="left:691.00px;top:526.28px;transform-origin:0 14.50px;transform:scaleX(0.8680) translateX(-100%)">39.8</div>
<div class="t body" style="left:737.20px;top:526.28px;transform-origin:0 14.50px;transform:scaleX(0.8680) translateX(-100%)">48.3</div>
<div class="t body" style="left:792.80px;top:526.28px;transform-origin:0 14.50px;transform:scaleX(0.8680) translateX(-100%)">47.8</div>
<div class="t body" style="left:859.60px;top:526.28px;transform-origin:0 14.50px;transform:scaleX(0.8680) translateX(-100%)">71.9</div>
<div class="t body" style="left:935.30px;top:526.28px;transform-origin:0 14.50px;transform:scaleX(0.8680) translateX(-100%)">39.6</div>
<div class="t body" style="left:1016.70px;top:526.28px;transform-origin:0 14.50px;transform:scaleX(0.8680) translateX(-100%)">54.6</div>
<div class="t body" style="left:1112.60px;top:526.28px;transform-origin:0 14.50px;transform:scaleX(0.8680) translateX(-100%)">43.6</div>
<div class="t body" style="left:1188.60px;top:526.28px;transform-origin:0 14.50px;transform:scaleX(0.8680) translateX(-100%)">32.3</div>
<div class="t body" style="left:276.00px;top:431.60px;transform-origin:0 14.50px;transform:scaleX(0.9000) translateX(-50%)">§</div>
<div class="t body" style="left:780.30px;top:431.60px;transform-origin:0 14.50px;transform:scaleX(0.9000) translateX(-50%)">§</div>
<svg class="r" style="left:0;top:0" width="1204" height="650" stroke="#707070" stroke-width="1.05"><line x1="19.35" y1="574.40" x2="19.35" y2="579.80"/><line x1="17.01" y1="575.75" x2="21.69" y2="578.45"/><line x1="21.69" y1="575.75" x2="17.01" y2="578.45"/></svg>
<div class="t foot" style="left:23.80px;top:569.50px;transform-origin:0 14.50px;transform:scaleX(0.8521)">BP indicates blood pressure; HIV, human immunodeficiency virus; HRT, hormone replacement therapy; and Ob/gyn, obstetrics and gynecology.</div>
<div class="t footu" style="left:15.54px;top:583.50px;transform-origin:0 14.50px;transform:scaleX(1.0600)">†</div>
<div class="t foot" style="left:24.00px;top:583.50px;transform-origin:0 14.50px;transform:scaleX(0.8513)">Numbers might vary because of missing values.</div>
<div class="t footu" style="left:15.76px;top:597.50px;transform-origin:0 14.50px;transform:scaleX(1.0400)">‡</div>
<div class="t foot" style="left:23.15px;top:597.50px;transform-origin:0 14.50px;transform:scaleX(0.8514)">Significant at</div>
<div class="t footu" style="left:89.34px;top:597.50px;transform-origin:0 14.50px;transform:scaleX(0.9571)">P</div>
<div class="t foot" style="left:108.50px;top:597.50px;transform-origin:0 14.50px;transform:scaleX(0.8526)">.001 for all 14 variables.</div>
<div class="t footu" style="left:15.93px;top:611.50px;transform-origin:0 14.50px;transform:scaleX(0.8667)">§</div>
<div class="t footu" style="left:22.64px;top:611.50px;transform-origin:0 14.50px;transform:scaleX(0.8571)">P</div>
<div class="t foot" style="left:40.00px;top:611.50px;transform-origin:0 14.50px;transform:scaleX(0.8611)">.01 by</div>
<div class="t footu" style="left:74.00px;top:611.50px;transform-origin:0 14.50px;transform:scaleX(0.9286)">χ</div>
<div class="t footu" style="left:81.20px;top:608.23px;transform-origin:0 12.77px;transform:scaleX(0.8250);font-size:8px">2</div>
<div class="t foot" style="left:88.50px;top:611.50px;transform-origin:0 14.50px;transform:scaleX(0.8696)">test.</div>
<div class="t footu" style="left:22.14px;top:625.50px;transform-origin:0 14.50px;transform:scaleX(0.8571)">P</div>
<div class="t foot" style="left:40.00px;top:625.50px;transform-origin:0 14.50px;transform:scaleX(0.8488)">.001 by</div>
<div class="t footu" style="left:79.00px;top:625.50px;transform-origin:0 14.50px;transform:scaleX(1.0000)">χ</div>
<div class="t footu" style="left:86.50px;top:622.23px;transform-origin:0 12.77px;transform:scaleX(0.8750);font-size:8px">2</div>
<div class="t foot" style="left:94.00px;top:625.50px;transform-origin:0 14.50px;transform:scaleX(0.8696)">test.</div>
<svg class="r" style="left:0;top:0" width="1204" height="650"><line stroke="#9a9a9a" stroke-width="0.9" x1="339.20" y1="436.00" x2="339.20" y2="448.00"/><line stroke="#9a9a9a" stroke-width="0.9" x1="341.80" y1="436.00" x2="341.80" y2="448.00"/><line stroke="#9a9a9a" stroke-width="0.9" x1="392.90" y1="436.00" x2="392.90" y2="448.00"/><line stroke="#9a9a9a" stroke-width="0.9" x1="395.50" y1="436.00" x2="395.50" y2="448.00"/><line stroke="#9a9a9a" stroke-width="0.9" x1="627.20" y1="436.00" x2="627.20" y2="448.00"/><line stroke="#9a9a9a" stroke-width="0.9" x1="629.80" y1="436.00" x2="629.80" y2="448.00"/><line stroke="#9a9a9a" stroke-width="0.9" x1="847.10" y1="436.00" x2="847.10" y2="448.00"/><line stroke="#9a9a9a" stroke-width="0.9" x1="849.70" y1="436.00" x2="849.70" y2="448.00"/><line stroke="#9a9a9a" stroke-width="0.9" x1="1003.20" y1="436.00" x2="1003.20" y2="448.00"/><line stroke="#9a9a9a" stroke-width="0.9" x1="1005.80" y1="436.00" x2="1005.80" y2="448.00"/><line stroke="#9a9a9a" stroke-width="0.9" x1="1100.20" y1="436.00" x2="1100.20" y2="448.00"/><line stroke="#9a9a9a" stroke-width="0.9" x1="1102.80" y1="436.00" x2="1102.80" y2="448.00"/><line stroke="#9a9a9a" stroke-width="0.9" x1="1175.70" y1="436.00" x2="1175.70" y2="448.00"/><line stroke="#9a9a9a" stroke-width="0.9" x1="1178.30" y1="436.00" x2="1178.30" y2="448.00"/><polyline fill="none" stroke="#222" stroke-width="0.9" points="107.50,605.90 98.00,608.40 107.50,610.90"/><polyline fill="none" stroke="#222" stroke-width="0.9" points="39.00,619.90 30.00,622.40 39.00,624.90"/><line stroke="#9a9a9a" stroke-width="0.9" x1="18.80" y1="631.00" x2="18.80" y2="642.50"/><line stroke="#9a9a9a" stroke-width="0.9" x1="20.80" y1="631.00" x2="20.80" y2="642.50"/><polyline fill="none" stroke="#222" stroke-width="0.9" points="39.00,633.90 29.50,636.40 39.00,638.90"/></svg>
</body></html>
